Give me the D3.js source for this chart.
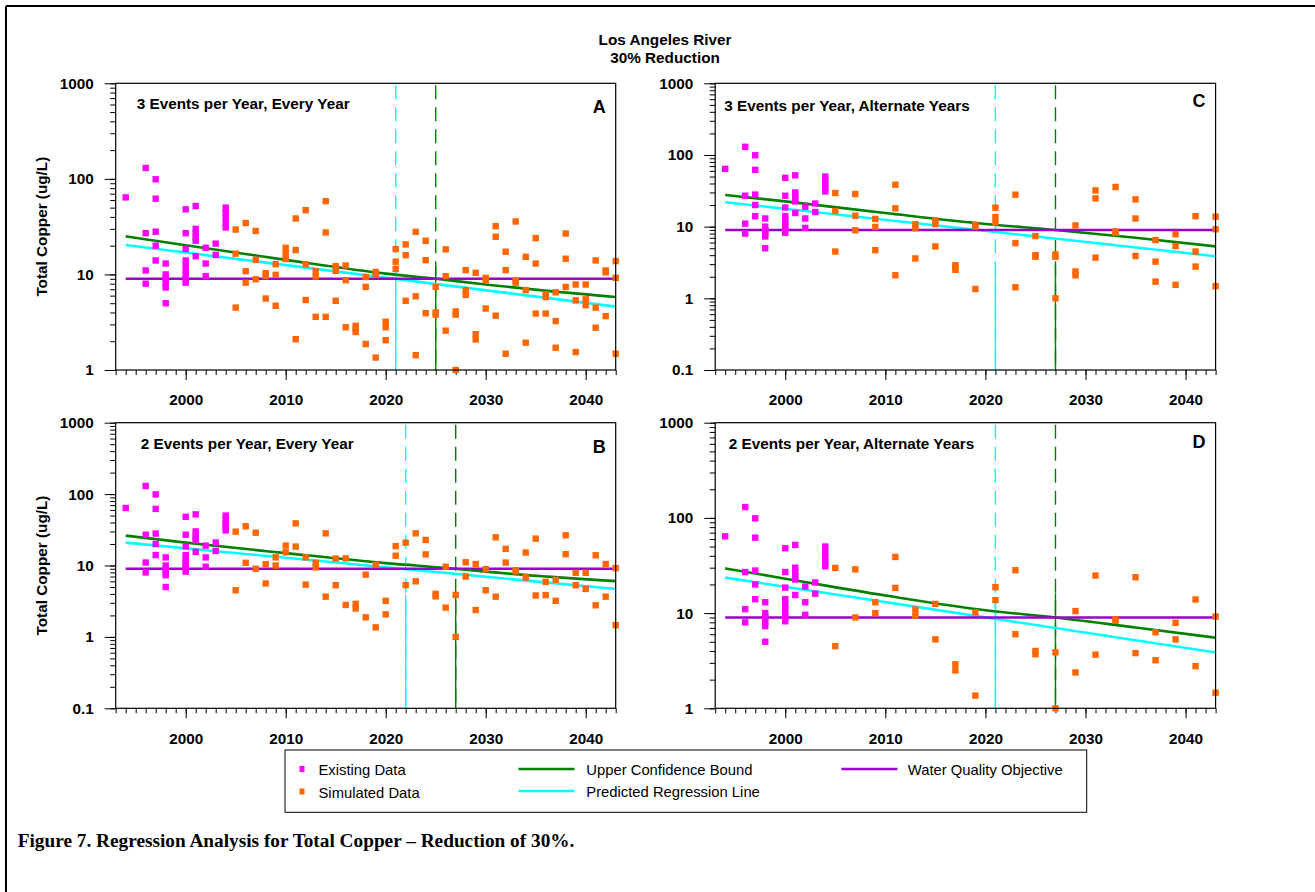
<!DOCTYPE html>
<html>
<head>
<meta charset="utf-8">
<script src="https://cdn.jsdelivr.net/npm/d3@7"></script>
<style>
  body { margin: 0; background: #fff; }
  svg { display: block; }
  text { font-family: Arial, "Liberation Sans", sans-serif; }
  text.caption { font-family: "Times New Roman", "Liberation Serif", serif; }
</style>
</head>
<body>
<svg width="1315" height="892"></svg>
<script>
// ---- Data ----
// Existing monitoring data (same in every panel): [year, values...]
const existingRows = [
  [1994, 64],
  [1996, 130, 27, 11, 8],
  [1997, 99, 62, 28, 20, 14],
  [1998, 13, 10, 9, 8.1, 7.3, 5],
  [2000, 48, 27, 18.5, 14, 12.5, 11, 10, 9, 8.2],
  [2001, 52, 30, 27, 24.5, 22.5, 15.5],
  [2002, 19, 13, 9.6],
  [2003, 21, 16],
  [2004, 50, 44, 39, 34.5, 31]
];

// Simulated data, 3 events per year (panel A; odd years give panel C)
const sim3Rows = [
  [2005, 29.5, 16.5, 4.5], [2006, 34.5, 10.8, 8.2], [2007, 28.5, 14.2, 8.9],
  [2008, 10.3, 9.6, 5.6], [2009, 12.8, 9.9, 4.7], [2010, 19, 16.5, 14.5],
  [2011, 38.5, 18, 2.1], [2012, 47, 12.8, 5.4], [2013, 10.8, 9.5, 3.6],
  [2014, 58.5, 27.5, 3.6], [2015, 12.2, 10.9, 5.3], [2016, 12.4, 8.7, 2.8],
  [2017, 2.9, 2.7, 2.5], [2018, 9.4, 7.4, 1.87], [2019, 10.6, 10.0, 1.35],
  [2020, 3.2, 2.8, 2.05], [2021, 18.4, 13.6, 11.4], [2022, 20.6, 15.9, 5.3],
  [2023, 27.9, 5.9, 1.43], [2024, 22.5, 14.1, 3.93], [2025, 7.4, 4.0, 3.8],
  [2026, 18.3, 9.6, 2.58], [2027, 4.1, 3.8, 1.0], [2028, 11.1, 6.85, 6.1],
  [2029, 10.4, 2.37, 2.09], [2030, 9.2, 8.7, 4.4], [2031, 32, 24.8, 3.7],
  [2032, 17.3, 11.1, 1.48], [2033, 35.8, 8.6, 8.2], [2034, 15.3, 6.85, 1.93],
  [2035, 24, 13, 3.9], [2036, 6.2, 5.8, 3.9], [2037, 6.5, 3.25, 1.71],
  [2038, 26.8, 14.6, 7.4], [2039, 7.85, 5.35, 1.54], [2040, 7.85, 5.5, 4.77],
  [2041, 14, 4.5, 2.77], [2042, 11, 10.5, 3.66], [2043, 13.8, 9.2, 1.48]
];

// Simulated data, 2 events per year (panel B; odd years give panel D)
const sim2Rows = [
  [2005, 29.8, 4.5], [2006, 35.4, 10.9], [2007, 28.8, 9.0], [2008, 10.4, 5.6],
  [2009, 13, 10], [2010, 19, 15.3], [2011, 38.9, 18.4], [2012, 13, 5.4],
  [2013, 10.9, 9.4], [2014, 28.2, 3.66], [2015, 12.5, 5.3], [2016, 12.6, 2.8],
  [2017, 2.9, 2.5], [2018, 7.45, 1.88], [2019, 10.2, 1.36], [2020, 3.2, 2.07],
  [2021, 18.7, 13.7], [2022, 20.9, 5.3], [2023, 28.2, 6.0], [2024, 22.8, 14.3],
  [2025, 4.0, 3.7], [2026, 9.6, 2.57], [2027, 3.87, 1.0], [2028, 11.1, 7.0],
  [2029, 10.5, 2.38], [2030, 8.9, 4.5], [2031, 24.8, 3.66], [2032, 17.1, 11.0],
  [2033, 8.6, 8.3], [2034, 15.2, 6.8], [2035, 23.8, 3.8], [2036, 5.9, 3.85],
  [2037, 6.3, 3.2], [2038, 26.5, 14.4], [2039, 7.9, 5.3], [2040, 7.9, 4.7],
  [2041, 13.9, 2.77], [2042, 10.5, 3.66], [2043, 9.2, 1.46]
];

const panelIds = ["A", "B", "C", "D"];
const panelTitles = [
  "3 Events per Year, Every Year",
  "2 Events per Year, Every Year",
  "3 Events per Year, Alternate Years",
  "2 Events per Year, Alternate Years"
];
const yDomains = [[1, 1000], [0.1, 1000], [0.1, 1000], [1, 1000]];

// Predicted regression line (straight on log scale)
const predYears = [1994, 2043];
const predA = [20.3, 4.6];
const predB = [20.9, 4.68];
const predC = [21.9, 3.86];
const predD = [23.6, 3.85];

// Upper confidence bound
const uclYearsA = [1994, 2000, 2010, 2020, 2025, 2030, 2043];
const uclA = [25, 20.2, 14.2, 10.2, 9.0, 7.85, 5.8];
const uclYearsB = [1994, 2000, 2010, 2020, 2027, 2030, 2043];
const uclB = [26.2, 20.9, 14.9, 10.8, 9.0, 8.2, 6.04];
const uclYearsCD = [1994, 2000, 2010, 2020, 2027, 2035, 2043];
const uclC = [27.7, 22.5, 15.5, 10.9, 9.0, 7.0, 5.3];
const uclD = [29.5, 23, 15.3, 10.7, 9.0, 7.05, 5.52];

// Water quality objective
const wqoYears = [1994, 2043];
const wqoValue = 9;

// Years where the lines reach the objective (vertical markers)
const predCrossYears = [2021, 2022, 2021, 2021];
const uclCrossYears = [2025, 2027, 2027, 2027];
// value where the vertical marker turns from dashed to solid
const predSolidFrom = [14.8, 3.9, 2.8, 13.8];
const uclSolidFrom = [12.2, 3.9, 2.9, 16.2];

const xDomain = [1993, 2043];
const majorYears = [2000, 2010, 2020, 2030, 2040];

const legendLabels = ["Existing Data", "Simulated Data", "Upper Confidence Bound",
  "Predicted Regression Line", "Water Quality Objective"];

// ---- Build ----
const flat = rows => rows.flatMap(([yr, ...vals]) => vals.map(v => ({year: yr, value: v})));
const oddOnly = rows => rows.filter(r => r[0] % 2 === 1);

const existing = flat(existingRows);
const simByPanel = [flat(sim3Rows), flat(sim2Rows), flat(oddOnly(sim3Rows)), flat(oddOnly(sim2Rows))];
const predByPanel = [predA, predB, predC, predD];
const uclByPanel = [[uclYearsA, uclA], [uclYearsB, uclB], [uclYearsCD, uclC], [uclYearsCD, uclD]];

const colors = {
  existing: "#ff00ff", simulated: "#ff6600",
  ucl: "#008000", pred: "#00ffff", wqo: "#9900cc"
};
const boldSize = 15.3;

const svg = d3.select("svg");

// outer frame (left and top edges)
svg.append("line").attr("x1", 6).attr("y1", 6).attr("x2", 1315).attr("y2", 6)
  .attr("stroke", "#000").attr("stroke-width", 2);
svg.append("line").attr("x1", 6).attr("y1", 6).attr("x2", 6).attr("y2", 892)
  .attr("stroke", "#000").attr("stroke-width", 2);

// title
svg.append("text").attr("x", 665).attr("y", 45).attr("text-anchor", "middle")
  .attr("font-size", boldSize).attr("font-weight", "bold").text("Los Angeles River");
svg.append("text").attr("x", 665).attr("y", 62.5).attr("text-anchor", "middle")
  .attr("font-size", boldSize).attr("font-weight", "bold").text("30% Reduction");

const boxes = [
  {x: 115.7, y: 83.3, w: 500, h: 286.7},
  {x: 115.7, y: 422.7, w: 500, h: 285.6},
  {x: 715.2, y: 83.3, w: 500.4, h: 286.7},
  {x: 715.2, y: 422.7, w: 500.4, h: 285.6}
];
const letterBase = [112.7, 452.7, 107.3, 448.3];
const titleBase = [109.3, 448.7, 111, 449.3];
const titleX = [21, 25, 9, 13.5];

panelIds.forEach((id, i) => {
  const b = boxes[i];
  const g = svg.append("g").attr("transform", `translate(${b.x},${b.y})`);
  const x = d3.scaleLinear().domain(xDomain).range([0, b.w]);
  const y = d3.scaleLog().domain(yDomains[i]).range([b.h, 0]);

  // y axis: minor and major ticks
  const yt = y.ticks();
  const yMajor = yt.filter(v => Math.abs(Math.log10(v) - Math.round(Math.log10(v))) < 1e-9);
  g.append("g").call(d3.axisLeft(y).tickValues(yt).tickSize(5.5).tickSizeOuter(0).tickFormat(""))
    .call(a => a.select(".domain").remove());
  g.append("g").call(d3.axisLeft(y).tickValues(yMajor).tickSize(11).tickSizeOuter(0)
      .tickPadding(11).tickFormat(d3.format("~g")))
    .call(a => a.select(".domain").remove())
    .selectAll("text").attr("font-size", boldSize).attr("font-weight", "bold")
    .attr("font-family", null).attr("fill", "#000");

  // x axis
  const xAll = d3.range(xDomain[0], xDomain[1] + 1);
  g.append("g").attr("transform", `translate(0,${b.h})`)
    .call(d3.axisBottom(x).tickValues(xAll).tickSize(5).tickSizeOuter(0).tickFormat(""))
    .call(a => a.select(".domain").remove());
  g.append("g").attr("transform", `translate(0,${b.h})`)
    .call(d3.axisBottom(x).tickValues(majorYears).tickSize(10).tickSizeOuter(0)
      .tickPadding(14.5).tickFormat(d3.format("d")))
    .call(a => a.select(".domain").remove())
    .selectAll("text").attr("font-size", boldSize).attr("font-weight", "bold")
    .attr("font-family", null).attr("fill", "#000");
  g.selectAll(".tick line").attr("stroke", "#000");

  // vertical markers
  const vlines = [
    {yr: predCrossYears[i], from: predSolidFrom[i], c: colors.pred},
    {yr: uclCrossYears[i], from: uclSolidFrom[i], c: colors.ucl}
  ];
  vlines.forEach(v => {
    g.append("line").attr("x1", x(v.yr)).attr("x2", x(v.yr)).attr("y1", 2).attr("y2", b.h)
      .attr("stroke", v.c).attr("stroke-width", 1.4).attr("stroke-dasharray", "14,8");
    g.append("line").attr("x1", x(v.yr)).attr("x2", x(v.yr)).attr("y1", y(v.from)).attr("y2", b.h)
      .attr("stroke", v.c).attr("stroke-width", 1.4);
  });

  // regression lines
  const pred = predByPanel[i];
  g.append("path")
    .attr("d", d3.line()(predYears.map((yr, k) => [x(yr), y(pred[k])])))
    .attr("fill", "none").attr("stroke", colors.pred).attr("stroke-width", 2.6);
  const [uy, uv] = uclByPanel[i];
  g.append("path")
    .attr("d", d3.line().curve(d3.curveMonotoneX)(uy.map((yr, k) => [x(yr), y(uv[k])])))
    .attr("fill", "none").attr("stroke", colors.ucl).attr("stroke-width", 2.6);
  g.append("path")
    .attr("d", d3.line()(wqoYears.map(yr => [x(yr), y(wqoValue)])))
    .attr("fill", "none").attr("stroke", colors.wqo).attr("stroke-width", 2.6);

  // points
  const s = 6.4;
  g.selectAll(".sim").data(simByPanel[i]).join("rect").attr("class", "sim")
    .attr("x", d => x(d.year) - s / 2).attr("y", d => y(d.value) - s / 2)
    .attr("width", s).attr("height", s).attr("fill", colors.simulated);
  g.selectAll(".ex").data(existing).join("rect").attr("class", "ex")
    .attr("x", d => x(d.year) - s / 2).attr("y", d => y(d.value) - s / 2)
    .attr("width", s).attr("height", s).attr("fill", colors.existing);

  // frame
  g.append("rect").attr("width", b.w).attr("height", b.h)
    .attr("fill", "none").attr("stroke", "#000").attr("stroke-width", 1.2);

  // labels
  g.append("text").attr("x", titleX[i]).attr("y", titleBase[i] - b.y)
    .attr("font-size", boldSize).attr("font-weight", "bold").text(panelTitles[i]);
  g.append("text").attr("x", b.w - 10).attr("y", letterBase[i] - b.y)
    .attr("text-anchor", "end").attr("font-size", 18).attr("font-weight", "bold").text(id);

  if (i < 2) {
    svg.append("text")
      .attr("transform", `translate(47,${b.y + b.h / 2}) rotate(-90)`)
      .attr("text-anchor", "middle").attr("font-size", boldSize).attr("font-weight", "bold")
      .text("Total Copper (ug/L)");
  }
});

// legend
const lg = svg.append("g");
lg.append("rect").attr("x", 285).attr("y", 750).attr("width", 801.7).attr("height", 62.3)
  .attr("fill", "#fff").attr("stroke", "#000").attr("stroke-width", 1);
const legendPos = [
  {kind: "sq", c: colors.existing, x: 302, y: 769, tx: 318.5},
  {kind: "sq", c: colors.simulated, x: 302, y: 791.5, tx: 318.5},
  {kind: "ln", c: colors.ucl, x: 518.5, y: 769, tx: 586.3},
  {kind: "ln", c: colors.pred, x: 518.5, y: 791, tx: 586.3},
  {kind: "ln", c: colors.wqo, x: 841.4, y: 769, tx: 907.8}
];
legendLabels.forEach((lab, k) => {
  const p = legendPos[k];
  if (p.kind === "sq") {
    lg.append("rect").attr("x", p.x - 2.5).attr("y", p.y - 3).attr("width", 5).attr("height", 6)
      .attr("fill", p.c);
  } else {
    lg.append("line").attr("x1", p.x).attr("x2", p.x + 56).attr("y1", p.y).attr("y2", p.y)
      .attr("stroke", p.c).attr("stroke-width", 2.4);
  }
  lg.append("text").attr("x", p.tx).attr("y", p.y + 6).attr("font-size", 14.8).text(lab);
});

// caption
svg.append("text").attr("class", "caption").attr("x", 17.7).attr("y", 847)
  .attr("font-size", 19.3).attr("font-weight", "bold")
  .text("Figure 7. Regression Analysis for Total Copper \u2013 Reduction of 30%.");
</script>
</body>
</html>
